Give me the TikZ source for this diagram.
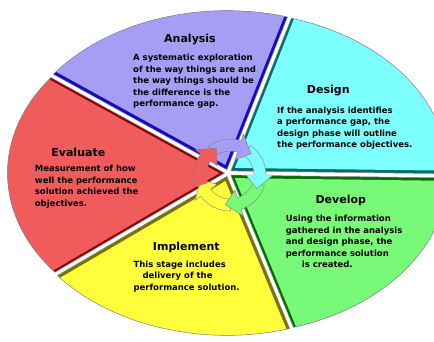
\documentclass[tikz,border=0pt]{standalone}
\usepackage{fontspec}
\setmainfont{DejaVu Sans}
\usepackage{tikz}
\usepackage{xcolor}

\definecolor{anaFill}{RGB}{166,158,245}
\definecolor{anaEdge}{RGB}{20,10,190}
\definecolor{desFill}{RGB}{125,255,255}
\definecolor{desEdge}{RGB}{0,110,110}
\definecolor{devFill}{RGB}{120,250,120}
\definecolor{devEdge}{RGB}{0,110,0}
\definecolor{impFill}{RGB}{255,255,60}
\definecolor{impEdge}{RGB}{120,115,0}
\definecolor{evaFill}{RGB}{240,92,92}
\definecolor{evaEdge}{RGB}{140,0,0}

% one slice of the elliptic pie, between two parametric angles
\newcommand{\pieslice}[2]{(228,169) -- ([shift={(228,169)}]#1:217pt and 159pt)
  arc[start angle=#1, end angle=#2, x radius=217pt, y radius=159pt] -- cycle}

\tikzset{
  title/.style={font=\bfseries\fontsize{11}{13}\selectfont},
  body/.style={font=\bfseries\fontsize{8.5}{11.5}\selectfont, align=left, anchor=west, inner sep=0pt},
}

\begin{document}
\begin{tikzpicture}[x=1pt, y=1pt]
  \useasboundingbox (0,0) rectangle (434,342);
  \clip (0,0) rectangle (434,342);

  % slices: dark edge underneath, light face pushed outward
  \foreach \tA/\tB/\face/\edge in {73.8/143.1/anaFill/anaEdge, -1/73.8/desFill/desEdge,
      -73.2/-1/devFill/devEdge, 218.6/286.8/impFill/impEdge, 143.1/218.6/evaFill/evaEdge} {
    \pgfmathsetmacro\mid{(\tA+\tB)/2}
    \begin{scope}[shift={(\mid:3.5pt)}]
      \fill[\edge] \pieslice{\tA}{\tB};
      \begin{scope}
        \clip \pieslice{\tA}{\tB};
        \fill[\face, shift={(\mid:5pt)}] \pieslice{\tA}{\tB};
      \end{scope}
      \draw[black!45, line width=0.5pt] \pieslice{\tA}{\tB};
    \end{scope}
  }

  % cycle of arrows in the middle
  \begin{scope}[shift={(230,167)}]
    \foreach \tip/\col in {-171/impFill, -99/devFill, -27/desFill, 45/anaFill, 117/evaFill} {
      \pgfmathsetmacro\tail{\tip+82}
      \pgfmathsetmacro\base{\tip+27}
      \filldraw[fill=\col, draw=black!50, line width=0.4pt]
        (\tail:36pt) arc[start angle=\tail, end angle=\base, radius=36pt]
        -- (\base:43pt) -- (\tip:30pt) -- (\base:16pt) -- (\base:24pt)
        arc[start angle=\base, end angle=\tail, radius=24pt] -- cycle;
    }
  \end{scope}

  \node (analysisTitle) [title] at (190,302.7) {Analysis};
  \node (analysisText) [body] at (133,260.8) {A systematic exploration\\of the way things are and\\the way things should be\\the difference is the\\performance gap.};

  \node (designTitle) [title] at (328.3,251) {Design};
  \node (designText) [body] at (277,213.7) {If the analysis identifies\\a performance gap, the\\design phase will outline\\the performance objectives.};

  \node (evaluateTitle) [title] at (78.3,189.7) {Evaluate};
  \node (evaluateText) [body] at (34.7,155.2) {Measurement of how\\well the performance\\solution achieved the\\objectives.};

  \node (developTitle) [title] at (340.8,142) {Develop};
  \node (developText) [body] at (285.7,100.2) {Using the information\\gathered in the analysis\\and design phase, the\\performance solution\\\hspace*{16pt}is created.};

  \node (implementTitle) [title] at (186.3,94.7) {Implement};
  \node (implementText) [body] at (133.3,65.8) {This stage includes\\\hspace*{9pt}delivery of the\\performance solution.};
\end{tikzpicture}
\end{document}
